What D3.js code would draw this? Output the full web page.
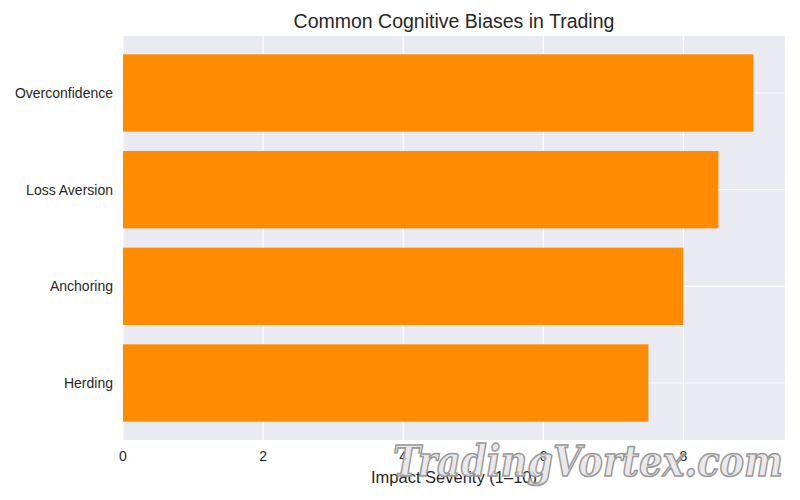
<!DOCTYPE html>
<html><head><meta charset="utf-8">
<script src="https://cdn.jsdelivr.net/npm/d3@7"></script>
<style>body{margin:0;background:#fff}svg{display:block}</style>
</head><body><svg id="c" width="800" height="500"></svg>
<script>
const categories = ["Overconfidence","Loss Aversion","Anchoring","Herding"];
const values = [9, 8.5, 8, 7.5];
const xTicks = [0,2,4,6,8];
const title = "Common Cognitive Biases in Trading";
const xLabel = "Impact Severity (1–10)";

const svg = d3.select("#c");
const L=123, R=785, T=36, B=440;
const font = "'Liberation Sans', Arial, sans-serif";
const x = d3.scaleLinear().domain([0, d3.max(values)*1.05]).range([L,R]);
const n = categories.length;
const y = d3.scaleLinear().domain([-0.59, n-1+0.59]).range([B,T]);
const pos = (i)=> n-1-i;

svg.append("rect").attr("x",L).attr("y",T).attr("width",R-L).attr("height",B-T).attr("fill","#EAEAF2");
svg.append("g").selectAll("line").data(xTicks).join("line")
  .attr("x1",d=>x(d)).attr("x2",d=>x(d)).attr("y1",T).attr("y2",B)
  .attr("stroke","#fff").attr("stroke-width",1.2);
svg.append("g").selectAll("line").data(categories).join("line")
  .attr("x1",L).attr("x2",R).attr("y1",(d,i)=>y(pos(i))).attr("y2",(d,i)=>y(pos(i)))
  .attr("stroke","#fff").attr("stroke-width",1.2);

const bh = y(0)-y(0.8);
svg.append("g").selectAll("rect").data(values).join("rect")
  .attr("x",x(0)).attr("width",d=>x(d)-x(0))
  .attr("y",(d,i)=>y(pos(i)+0.4)).attr("height",bh)
  .attr("fill","#FF8C00");

svg.append("g").selectAll("text").data(xTicks).join("text")
  .attr("x",d=>x(d)).attr("y",B+21).attr("text-anchor","middle")
  .attr("font-family",font).attr("font-size",14).attr("fill","#262626").text(d=>d);
svg.append("g").selectAll("text").data(categories).join("text")
  .attr("x",L-10).attr("y",(d,i)=>y(pos(i))).attr("dy","0.35em").attr("text-anchor","end")
  .attr("font-family",font).attr("font-size",14).attr("fill","#262626").text(d=>d);

svg.append("text").attr("x",(L+R)/2).attr("y",28).attr("text-anchor","middle")
  .attr("font-family",font).attr("font-size",19.5).attr("fill","#262626").text(title);
svg.append("text").attr("x",(L+R)/2).attr("y",483).attr("text-anchor","middle")
  .attr("font-family",font).attr("font-size",16.5).attr("fill","#262626").text(xLabel);

// watermark
svg.append("text").attr("x",393).attr("y",476)
  .attr("font-family","'DejaVu Serif', serif").attr("font-style","italic").attr("font-weight","bold")
  .attr("font-size",42).attr("textLength",390).attr("lengthAdjust","spacingAndGlyphs")
  .attr("fill","#e6e2e6").attr("fill-opacity",0.8)
  .attr("stroke","#9a9a9a").attr("stroke-width",1.6)
  .text("TradingVortex.com");
</script></body></html>
